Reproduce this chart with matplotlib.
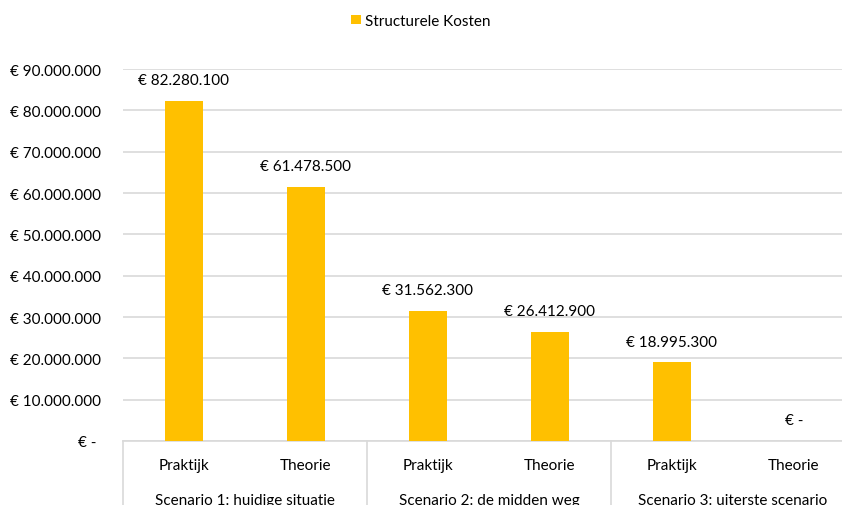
import matplotlib
matplotlib.use("Agg")
import matplotlib.pyplot as plt
from matplotlib.patches import Patch
from matplotlib.lines import Line2D
import matplotlib.transforms as mtransforms

plt.rcParams['font.family'] = ['Lato', 'DejaVu Sans']

scenarios = ["Scenario 1: huidige situatie", "Scenario 2: de midden weg", "Scenario 3: uiterste scenario"]
subcats = ["Praktijk", "Theorie"]
values = [82280100, 61478500, 31562300, 26412900, 18995300, 0]
series_name = "Structurele Kosten"
yticks = [0, 10e6, 20e6, 30e6, 40e6, 50e6, 60e6, 70e6, 80e6, 90e6]

def fmt(v):
    if v == 0:
        return "€ -"
    return "€ " + f"{int(round(v)):,}".replace(",", ".")

FS = 11
W, H = 842, 506
fig = plt.figure(figsize=(W/100, H/100), dpi=100)
left, right, top, bottom = 123, 855, 70, 442
ax = fig.add_axes([left/W, (H-bottom)/H, (right-left)/W, (bottom-top)/H])

color = "#FFC000"
grid = "#D9D9D9"
x = list(range(len(values)))
ax.bar(x, values, width=0.31, color=color, zorder=3)
ax.set_xlim(-0.5, len(values)-0.5)
ax.set_ylim(0, 90e6)
ax.set_yticks(yticks)
ax.set_yticklabels([fmt(v) + (" " if v == 0 else "") for v in yticks], fontsize=FS, color="#000000")
ax.tick_params(axis='y', length=0, pad=16)
ax.tick_params(axis='x', length=0, labelbottom=False)
for s in ['top', 'right', 'left']:
    ax.spines[s].set_visible(False)
ax.spines['bottom'].set_color(grid)
ax.spines['bottom'].set_linewidth(1.2)
ax.yaxis.grid(True, color=grid, linewidth=1.2, zorder=0)
ax.set_axisbelow(True)

for xi, v in zip(x, values):
    ax.annotate(fmt(v), (xi, v), xytext=(0, 15), textcoords='offset points',
                ha='center', va='center', fontsize=FS, color="#000000")

trans = mtransforms.blended_transform_factory(ax.transData, ax.transAxes)
px = 1.0 / (bottom - top)
for i in range(len(values)):
    ax.text(i, -24*px, subcats[i % 2], transform=trans, ha='center', va='center', fontsize=FS, clip_on=False)
for j, sc in enumerate(scenarios):
    ax.text(2*j + 0.5, -59*px, sc, transform=trans, ha='center', va='center', fontsize=FS, clip_on=False)
for b in [-0.5, 1.5, 3.5, 5.5]:
    ax.add_line(Line2D([b, b], [0, -80*px], transform=trans, color=grid, linewidth=1.2, clip_on=False))

fig.legend(handles=[Patch(facecolor=color, label=series_name)], loc='center', bbox_to_anchor=(0.5, 1 - 22/H),
           frameon=False, fontsize=FS, handlelength=0.6, handleheight=0.6, handletextpad=0.3)

fig.savefig("out.png", dpi=100)
